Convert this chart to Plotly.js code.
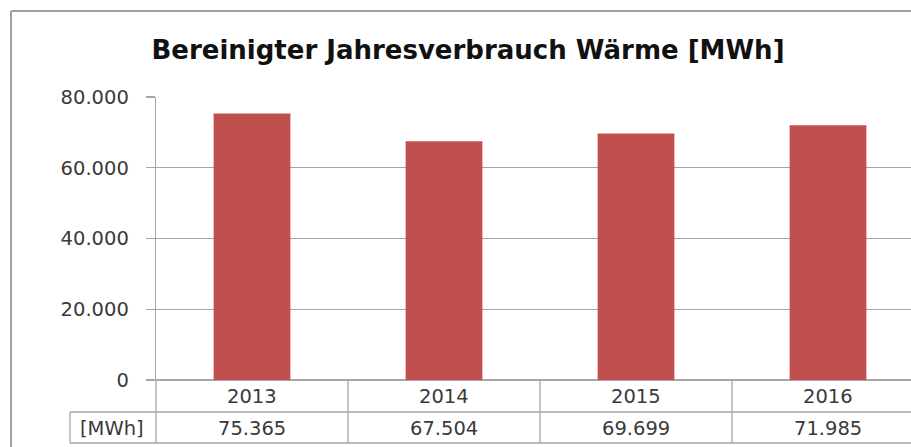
<!DOCTYPE html>
<html>
<head>
<meta charset="utf-8">
<script src="https://cdn.plot.ly/plotly-3.0.1.min.js"></script>
<style>
  html, body { margin: 0; padding: 0; background: #ffffff; overflow: hidden; }
  #chart { width: 911px; height: 447px; }
</style>
</head>
<body>
<div id="chart"></div>
<script>
// ---- data ----
const years = ["2013", "2014", "2015", "2016"];
const values = [75365, 67504, 69699, 71985];
const unitLabel = "[MWh]";
const titleText = "Bereinigter Jahresverbrauch Wärme [MWh]";
const yTicks = [0, 20000, 40000, 60000, 80000];

// ---- styling ----
const barColor = "#C0504D";
const lineColor = "#A6A6A6";
const textColor = "#3A3A3A";
const fontFamily = "DejaVu Sans, sans-serif";

function fmtDE(v) {
  return String(v).replace(/\B(?=(\d{3})+(?!\d))/g, ".");
}

const W = 911, H = 447;
const mL = 156, mT = 97, mB = 67, mR = 0;
const plotW = W - mL - mR, plotH = H - mT - mB;
const catW = 192;
const px2x = (px) => (px - mL) / plotW;      // pixel -> paper x
const py2y = (py) => (H - mB - py) / plotH;  // pixel -> paper y

const row1 = py2y(412), row2 = py2y(443);
const leftCell = px2x(70);

const shapes = [];
const lineStyle = { color: lineColor, width: 1.3 };
// outer frame
shapes.push({ type: "line", xref: "paper", yref: "paper", x0: px2x(11), x1: px2x(11), y0: py2y(11), y1: py2y(460), line: { color: "#A0A0A0", width: 2 } });
shapes.push({ type: "line", xref: "paper", yref: "paper", x0: px2x(11), x1: 1.1, y0: py2y(11), y1: py2y(11), line: { color: "#A0A0A0", width: 2 } });
// table horizontal lines
shapes.push({ type: "line", xref: "paper", yref: "paper", x0: leftCell, x1: 1.1, y0: row1, y1: row1, line: lineStyle });
shapes.push({ type: "line", xref: "paper", yref: "paper", x0: leftCell, x1: 1.1, y0: row2, y1: row2, line: lineStyle });
// table verticals
shapes.push({ type: "line", xref: "paper", yref: "paper", x0: leftCell, x1: leftCell, y0: row1, y1: row2, line: lineStyle });
shapes.push({ type: "line", xref: "paper", yref: "paper", x0: 0, x1: 0, y0: 0, y1: row2, line: lineStyle });
for (let i = 0; i < years.length - 1; i++) {
  shapes.push({ type: "line", xref: "x", yref: "paper", x0: i + 0.5, x1: i + 0.5, y0: 0, y1: row2, line: lineStyle });
}

const tableFont = { family: fontFamily, size: 19.5, color: textColor };
const annotations = [];
years.forEach((yr, i) => {
  annotations.push({ x: i, xref: "x", y: py2y(396), yref: "paper", text: yr, showarrow: false,
    font: tableFont, xanchor: "center", yanchor: "middle" });
  annotations.push({ x: i, xref: "x", y: py2y(428), yref: "paper", text: fmtDE(values[i]), showarrow: false,
    font: tableFont, xanchor: "center", yanchor: "middle" });
});
annotations.push({ x: px2x(112), xref: "paper", y: py2y(428), yref: "paper", text: unitLabel, showarrow: false,
  font: tableFont, xanchor: "center", yanchor: "middle" });

const trace = {
  type: "bar",
  x: years,
  y: values,
  marker: { color: barColor },
  width: 0.4,
  hoverinfo: "x+y"
};

const layout = {
  width: W, height: H,
  margin: { l: mL, r: mR, t: mT, b: mB, pad: 0 },
  paper_bgcolor: "#ffffff",
  plot_bgcolor: "#ffffff",
  separators: ",.",
  showlegend: false,
  title: {
    text: "<b>" + titleText + "</b>",
    x: px2x(468), xref: "paper", xanchor: "center",
    y: 1 - 50 / H, yref: "container", yanchor: "middle",
    font: { family: fontFamily, size: 26, color: "#111111" }
  },
  xaxis: {
    type: "category",
    range: [-0.5, -0.5 + plotW / catW],
    showticklabels: false,
    ticks: "",
    showgrid: false,
    zeroline: false,
    showline: false,
    fixedrange: true
  },
  yaxis: {
    range: [0, 80000],
    tickvals: yTicks,
    tickformat: ",d",
    ticks: "outside",
    ticklen: 9,
    tickcolor: lineColor,
    tickwidth: 1.3,
    ticklabelstandoff: 13,
    showgrid: true,
    gridcolor: lineColor,
    gridwidth: 1.3,
    zeroline: true,
    zerolinecolor: lineColor,
    zerolinewidth: 1.3,
    showline: true,
    linecolor: lineColor,
    linewidth: 1.3,
    tickfont: { family: fontFamily, size: 19.5, color: textColor },
    fixedrange: true
  },
  shapes: shapes,
  annotations: annotations
};

Plotly.newPlot("chart", [trace], layout, { displayModeBar: false, staticPlot: true });
</script>
</body>
</html>
